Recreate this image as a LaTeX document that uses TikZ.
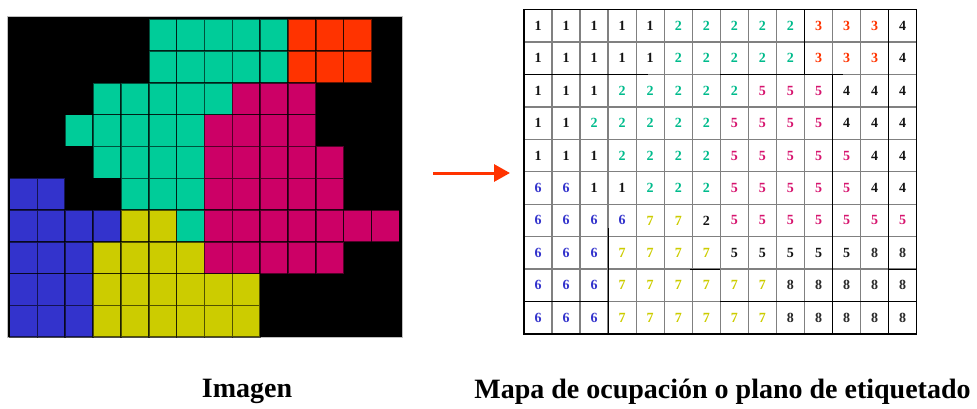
\documentclass[tikz,border=0pt]{standalone}
\usepackage{fontspec}
\setmainfont{Liberation Serif}
\usetikzlibrary{arrows.meta}
\definecolor{c2}{RGB}{0,204,153}
\definecolor{c3}{RGB}{255,51,0}
\definecolor{c5}{RGB}{204,0,102}
\definecolor{c6}{RGB}{51,51,204}
\definecolor{c7}{RGB}{204,204,0}
\definecolor{t1}{RGB}{20,20,20}
\definecolor{t2}{RGB}{0,187,140}
\definecolor{t3}{RGB}{255,51,0}
\definecolor{t4}{RGB}{20,20,20}
\definecolor{t5}{RGB}{214,20,110}
\definecolor{t6}{RGB}{51,51,204}
\definecolor{t7}{RGB}{204,204,0}
\definecolor{t8}{RGB}{40,40,40}
\definecolor{arrowred}{RGB}{255,51,0}
\tikzset{
  pixcell/.style={draw=black, draw opacity=0.6, line width=1.5pt},
  tgrid/.style={draw=black!50, line width=1.4pt},
  tdark/.style={draw=black, line width=1.2pt},
  digit/.style={font=\fontsize{14}{14}\selectfont\bfseries, inner sep=0pt},
  caption/.style={font=\fontsize{28}{28}\selectfont\bfseries, anchor=base, inner sep=0pt},
  redarrow/.style={draw=arrowred, line width=3pt, -{Triangle[length=16pt,width=17pt]}}
}
\def\mapdata{{1,1,1,1,1,2,2,2,2,2,3,3,3,4},
{1,1,1,1,1,2,2,2,2,2,3,3,3,4},
{1,1,1,2,2,2,2,2,5,5,5,4,4,4},
{1,1,2,2,2,2,2,5,5,5,5,4,4,4},
{1,1,1,2,2,2,2,5,5,5,5,5,4,4},
{6,6,1,1,2,2,2,5,5,5,5,5,4,4},
{6,6,6,6,7,7,2,5,5,5,5,5,5,5},
{6,6,6,7,7,7,7,5,5,5,5,5,8,8},
{6,6,6,7,7,7,7,7,7,8,8,8,8,8},
{6,6,6,7,7,7,7,7,7,8,8,8,8,8}}
\begin{document}
\begin{tikzpicture}[x=1pt,y=-1pt]
\useasboundingbox (0,0) rectangle (977,409);
% ---------- left image ----------
\def\lx{9.5}\def\lw{27.85}\def\ly{19.5}\def\lh{31.75}
\fill[black] (8,17) rectangle (402,337);
\draw[black!25, line width=0.8pt] (7.5,16.5) rectangle (402.5,337.5);
\foreach \rowvals [count=\r] in \mapdata {
  \foreach \v [count=\c] in \rowvals {
    \ifnum\v=1 \else\ifnum\v=4 \else\ifnum\v=8 \else
      \fill[c\v] ({\lx+(\c-1)*\lw},{\ly+(\r-1)*\lh}) rectangle ({\lx+\c*\lw},{\ly+\r*\lh});
      \draw[pixcell] ({\lx+(\c-1)*\lw},{\ly+(\r-1)*\lh}) rectangle ({\lx+\c*\lw},{\ly+\r*\lh});
    \fi\fi\fi
  }
}
% ---------- arrow ----------
\coordinate (as) at (433,173);
\coordinate (ae) at (510,173);
\draw[redarrow] (as) -- (ae);
% ---------- table ----------
\def\tx{524}\def\tw{28.05}\def\ty{9.5}\def\th{32.45}
\foreach \i in {1,...,13} \draw[tgrid] ({\tx+\i*\tw},\ty) -- ({\tx+\i*\tw},{\ty+10*\th});
\foreach \j in {1,...,9} \draw[tgrid] (\tx,{\ty+\j*\th}) -- ({\tx+14*\tw},{\ty+\j*\th});
\draw[tdark] (\tx,\ty) rectangle ({\tx+14*\tw},{\ty+10*\th});
% darker segments along region boundaries
\draw[tdark] ({\tx+10*\tw},\ty) -- ({\tx+10*\tw},{\ty+2*\th});
\draw[tdark] ({\tx+13*\tw},\ty) -- ({\tx+13*\tw},{\ty+10*\th});
\draw[tdark] ({\tx+11*\tw},{\ty+2*\th}) -- ({\tx+11*\tw},{\ty+10*\th});
\draw[tdark] (\tx,{\ty+2*\th}) -- (648,{\ty+2*\th});
\draw[tdark] (720,{\ty+2*\th}) -- (843,{\ty+2*\th});
\draw[tdark] ({\tx+3*\tw},228) -- ({\tx+3*\tw},{\ty+10*\th});
\draw[tdark] (\tx,{\ty+9*\th}) -- ({\tx+3*\tw},{\ty+9*\th});
\draw[tdark] (720,{\ty+9*\th}) -- ({\tx+14*\tw},{\ty+9*\th});
\draw[tdark] (690,{\ty+8*\th}) -- (720,{\ty+8*\th});
\draw[tdark] ({\tx+13*\tw},{\ty+8*\th}) -- ({\tx+14*\tw},{\ty+8*\th});
\foreach \rowvals [count=\r] in \mapdata {
  \foreach \v [count=\c] in \rowvals {
    \def\tc{t\v}
    \ifnum\r=8 \ifnum\v=5 \def\tc{t1}\fi\fi
    \ifnum\r=7 \ifnum\c=7 \def\tc{t1}\fi\fi
    \node[digit, text=\tc] (d\r-\c) at ({\tx+(\c-0.5)*\tw},{\ty+(\r-0.5)*\th}) {\v};
  }
}
% ---------- captions ----------
\node[caption] (cap1) at (247,397) {Imagen};
\node[caption] (cap2) at (722.5,398) {Mapa de ocupación o plano de etiquetado};
\end{tikzpicture}
\end{document}
